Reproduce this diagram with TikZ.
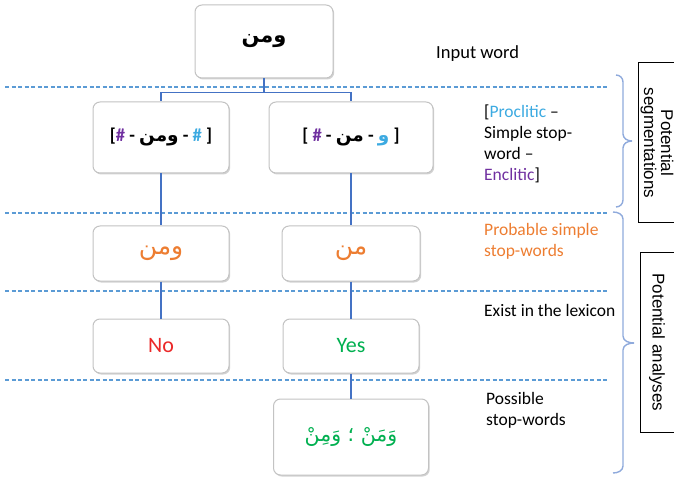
\documentclass[tikz,border=0pt]{standalone}
\usepackage{fontspec}
\setmainfont{Carlito}
\newfontfamily\arabicfont[Script=Arabic]{DejaVu Sans}
\newfontfamily\labelfont{Liberation Sans}
\TeXXeTstate=1
\usetikzlibrary{shadows}

\definecolor{linkblue}{RGB}{68,114,196}
\definecolor{dashblue}{RGB}{91,155,213}
\definecolor{bracecol}{RGB}{143,170,220}
\definecolor{procl}{RGB}{60,170,225}
\definecolor{encl}{RGB}{112,48,160}
\definecolor{orangetxt}{RGB}{237,125,49}
\definecolor{redtxt}{RGB}{235,40,40}
\definecolor{greentxt}{RGB}{0,176,80}
\definecolor{boxedge}{RGB}{195,195,195}

\tikzset{
  wbox/.style={draw=boxedge, line width=1pt, rounded corners=7pt, fill=white,
    inner sep=0pt, drop shadow={shadow xshift=1.2pt, shadow yshift=-1.5pt,
    fill=black!35, opacity=0.5}},
  link/.style={draw=linkblue, line width=1.8pt},
  sepline/.style={draw=dashblue, line width=1.3pt, dash pattern=on 4pt off 2.5pt},
  bracepath/.style={draw=bracecol, line width=1.4pt},
  note/.style={inner sep=0pt, anchor=west, align=left,
    font=\fontsize{17.5}{21}\selectfont},
  labelframe/.style={draw=black, line width=1pt, fill=white},
  sidelabel/.style={inner sep=0pt, align=center,
    font=\labelfont\fontsize{17}{17}\selectfont},
}

\begin{document}
\begin{tikzpicture}[x=1pt, y=-1pt]
\useasboundingbox (0,0) rectangle (674,478);
\clip (0,0) rectangle (674,478);

% level separators
\draw[sepline] (5,87) -- (607,87);
\draw[sepline] (5,213) -- (607,213);
\draw[sepline] (5,291) -- (607,291);
\draw[sepline] (5,380) -- (607,380);

% input word
\node[wbox, minimum width=138pt, minimum height=73pt] (w) at (264,41.5)
  {\arabicfont\bfseries\fontsize{21}{26}\selectfont\beginR ومن\endR};

% segmentations
\node[wbox, minimum width=136pt, minimum height=71pt] (sl) at (161,137.5)
  {\bfseries\fontsize{18.5}{22}\selectfont [{\color{encl}\#} - {\arabicfont\beginR ومن\endR} - {\color{procl}\#} ]};
\node[wbox, minimum width=164pt, minimum height=71pt] (sr) at (351,137.5)
  {\bfseries\fontsize{18.5}{22}\selectfont [ {\color{encl}\#} - {\arabicfont\beginR من\endR} - {\color{procl}\arabicfont\beginR و\endR} ]};

% probable simple stop-words
\node[wbox, minimum width=136pt, minimum height=55pt, text=orangetxt] (pl) at (161,253.5)
  {\arabicfont\fontsize{25}{28}\selectfont\beginR ومن\endR};
\node[wbox, minimum width=138pt, minimum height=55pt, text=orangetxt] (pr) at (351,253.5)
  {\arabicfont\fontsize{25}{28}\selectfont\beginR من\endR};

% lexicon check
\node[wbox, minimum width=136pt, minimum height=54pt, text=redtxt,
  font=\fontsize{22}{26}\selectfont] (ll) at (161,346) {No};
\node[wbox, minimum width=136pt, minimum height=54pt, text=greentxt,
  font=\fontsize{22}{26}\selectfont] (lr) at (351,346) {Yes};

% possible stop-words
\node[wbox, minimum width=155pt, minimum height=76pt, text=greentxt] (ps) at (351,437)
  {\arabicfont\fontsize{20.5}{26}\selectfont\beginR وَمَنْ ؛ وَمِنْ\endR};

% connectors
\draw[link] (w.south) -- ++(0,14) coordinate (fork) -| (sl.north);
\draw[link] (fork) -| (sr.north);
\draw[link] (sl.south) -- (pl.north);
\draw[link] (sr.south) -- (pr.north);
\draw[link] (pl.south) -- (ll.north);
\draw[link] (pr.south) -- (lr.north);
\draw[link] (lr.south) -- (ps.north);

% level descriptions
\node[note, font=\fontsize{18.5}{22}\selectfont] (n1) at (436,54) {Input word};
\node[note] (n2) at (484,144) {[{\color{procl}Proclitic} –\\Simple stop-\\word –\\{\color{encl}Enclitic}]};
\node[note, text=orangetxt] (n3) at (484,241) {Probable simple\\stop-words};
\node[note] (n4) at (484,310) {Exist in the lexicon};
\node[note] (n5) at (486,410.5) {Possible\\stop-words};

% braces
\draw[bracepath] (616,75) to[out=0,in=90] (623,82) -- (623,134) to[out=-90,in=180] (632,141);
\draw[bracepath] (616,207) to[out=0,in=-90] (623,200) -- (623,148) to[out=90,in=180] (632,141);
\draw[bracepath] (613,212) to[out=0,in=90] (623,219) -- (623,336) to[out=-90,in=180] (634,343);
\draw[bracepath] (613,473) to[out=0,in=-90] (623,466) -- (623,350) to[out=90,in=180] (634,343);

% group labels
\draw[labelframe] (638,63) rectangle (690,223);
\node[sidelabel, rotate=-90] (g1) at (657,143) {Potential\\segmentations};
\draw[labelframe] (640,253) rectangle (690,432);
\node[sidelabel, rotate=-90] (g2) at (657,342.5) {Potential analyses};
\end{tikzpicture}
\end{document}
